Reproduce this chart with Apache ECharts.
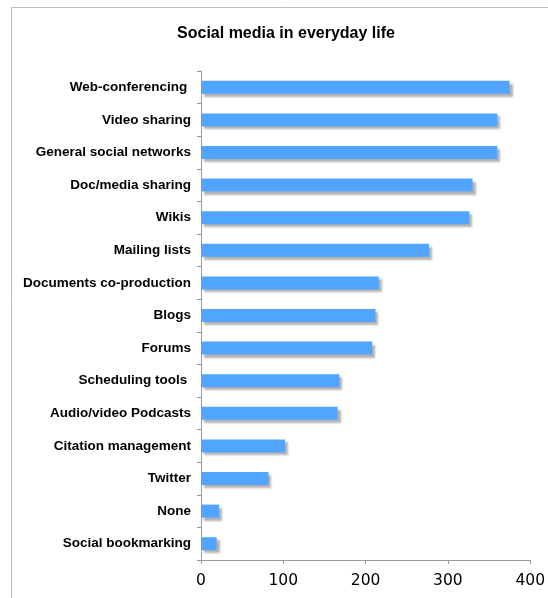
<!DOCTYPE html>
<html>
<head>
<meta charset="utf-8">
<script src="https://cdn.jsdelivr.net/npm/echarts@6/dist/echarts.min.js"></script>
<style>
  html, body { margin: 0; padding: 0; background: #fff; }
  #chart { width: 548px; height: 598px; }
</style>
</head>
<body>
<div id="chart"></div>
<script>
// categories, top to bottom
var categories = [
    'Web-conferencing ',
    'Video sharing',
    'General social networks',
    'Doc/media sharing',
    'Wikis',
    'Mailing lists',
    'Documents co-production',
    'Blogs',
    'Forums',
    'Scheduling tools ',
    'Audio/video Podcasts',
    'Citation management',
    'Twitter',
    'None',
    'Social bookmarking'
];
var counts = [375, 360, 360, 330, 326, 277, 216, 212, 208, 168, 166, 102, 82, 22, 19];
var xTicks = [0, 100, 200, 300, 400];

var dom = document.getElementById('chart');
var myChart = echarts.init(dom, null, { renderer: 'canvas' });

var option = {
    animation: false,
    backgroundColor: '#fff',
    title: {
        text: 'Social media in everyday life',
        left: 281,
        top: 21,
        textAlign: 'center',
        textStyle: {
            fontFamily: 'Liberation Sans',
            fontWeight: 'bold',
            fontSize: 16,
            color: '#000'
        }
    },
    graphic: [
        {
            type: 'rect',
            shape: { x: 11.5, y: 7.5, width: 600, height: 700 },
            style: { fill: 'none', stroke: '#bbb', lineWidth: 1 },
            silent: true
        }
    ],
    grid: {
        left: 201,
        right: 16,
        top: 71,
        bottom: 38,
        containLabel: false
    },
    xAxis: {
        type: 'value',
        min: xTicks[0],
        max: xTicks[xTicks.length - 1],
        interval: 100,
        axisLine: { show: true, lineStyle: { color: '#999' } },
        axisTick: { show: true, length: 4, lineStyle: { color: '#999' } },
        splitLine: { show: false },
        axisLabel: {
            margin: 13,
            fontFamily: 'DejaVu Sans',
            fontSize: 15.5,
            color: '#000'
        }
    },
    yAxis: {
        type: 'category',
        data: categories,
        inverse: true,
        axisLine: { show: true, lineStyle: { color: '#999' } },
        axisTick: { show: true, length: 4, lineStyle: { color: '#999' } },
        axisLabel: {
            margin: 10,
            fontFamily: 'Liberation Sans',
            fontWeight: 'bold',
            fontSize: 13.5,
            color: '#000'
        }
    },
    series: [
        {
            type: 'bar',
            data: counts,
            barWidth: 13,
            itemStyle: {
                color: '#52a5ff',
                shadowColor: 'rgba(0,0,0,0.3)',
                shadowBlur: 2,
                shadowOffsetX: 3,
                shadowOffsetY: 3
            }
        }
    ]
};

myChart.setOption(option);
</script>
</body>
</html>
